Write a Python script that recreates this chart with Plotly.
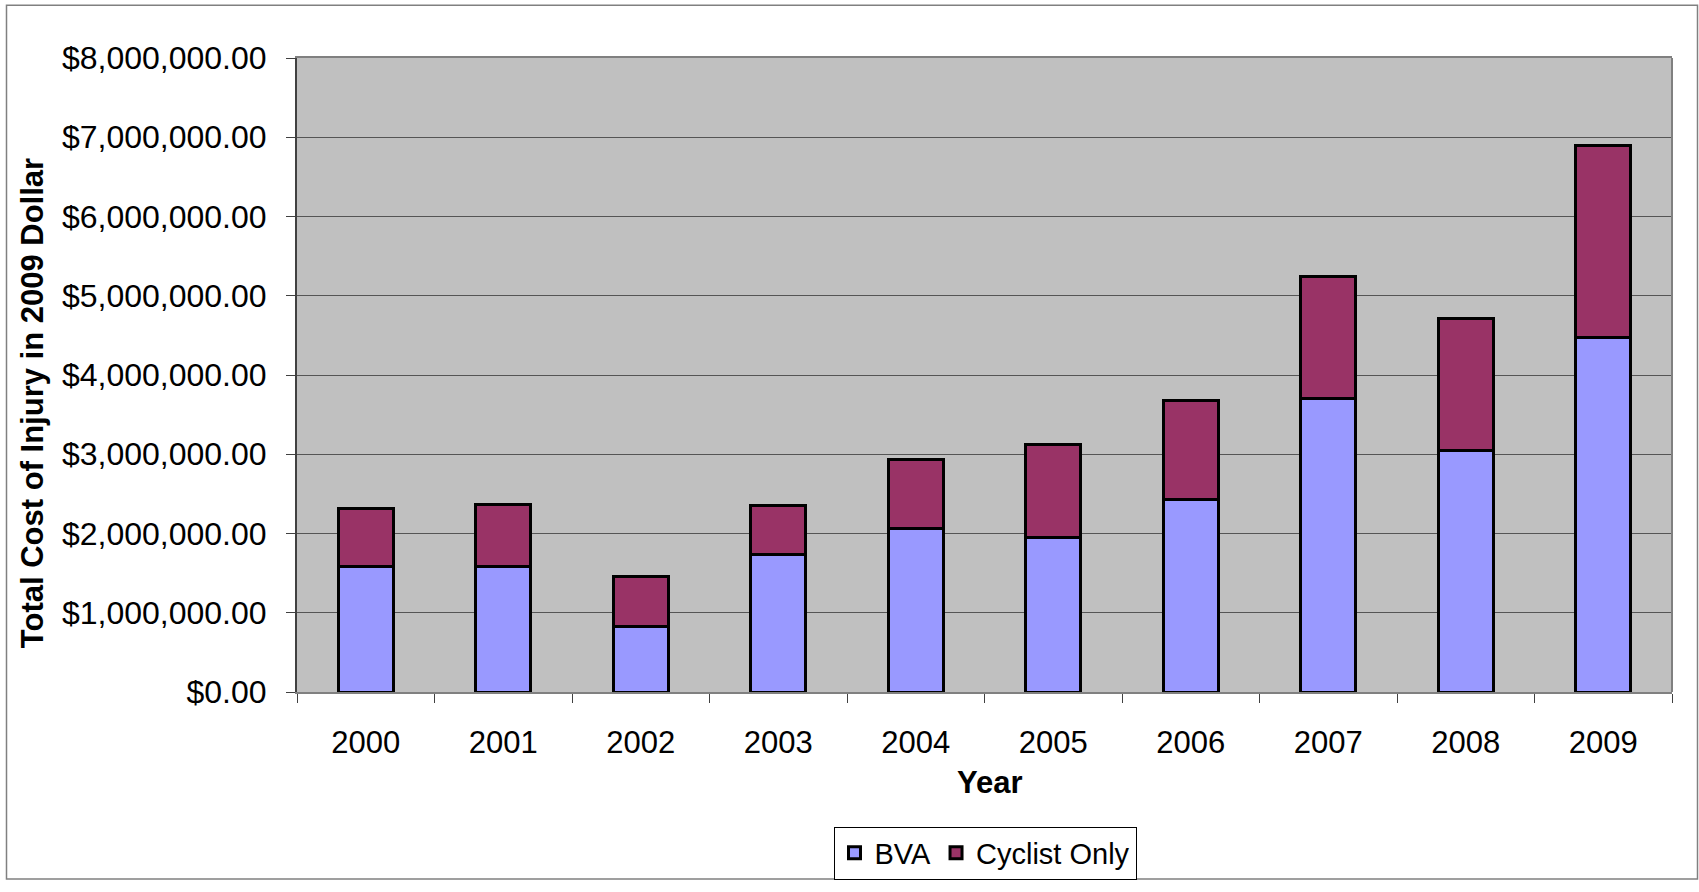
import plotly.graph_objects as go

# ---------------- data ----------------
years = ["2000", "2001", "2002", "2003", "2004", "2005", "2006", "2007", "2008", "2009"]
bva = [1580000, 1580000, 822000, 1736000, 2060000, 1950000, 2424000, 3700000, 3050000, 4477000]
cyclist_only = [730000, 780000, 638000, 613000, 872000, 1175000, 1256000, 1540000, 1668000, 2423000]
y_tick_values = [0, 1000000, 2000000, 3000000, 4000000, 5000000, 6000000, 7000000, 8000000]
y_tick_labels = ["$0.00", "$1,000,000.00", "$2,000,000.00", "$3,000,000.00", "$4,000,000.00",
                 "$5,000,000.00", "$6,000,000.00", "$7,000,000.00", "$8,000,000.00"]

FONT = "Liberation Sans, Arial, sans-serif"

fig = go.Figure()
fig.add_trace(go.Bar(
    name="BVA", x=years, y=bva, width=0.4,
    marker=dict(color="#9999FF", line=dict(color="black", width=3)),
))
fig.add_trace(go.Bar(
    name="Cyclist Only", x=years, y=cyclist_only, width=0.4,
    marker=dict(color="#993366", line=dict(color="black", width=3)),
))

# plot area in pixels
L, R, T, B = 297, 1672, 58, 699
W, H = R - L, B - T


def px(xp):
    return (xp - L) / W


def py(yp):
    return (B - yp) / H


fig.update_layout(
    width=1699, height=892, autosize=False,
    margin=dict(l=L, r=1699 - R, t=T, b=892 - B, pad=0),
    paper_bgcolor="white", plot_bgcolor="#C0C0C0",
    barmode="stack",
    font=dict(family=FONT, color="black", size=31),
    showlegend=True,
    legend=dict(
        orientation="h", x=px(985), xanchor="center", y=py(835), yanchor="top",
        bordercolor="black", borderwidth=1, bgcolor="white",
        font=dict(family=FONT, size=29, color="black"),
        traceorder="normal",
    ),
    xaxis=dict(
        type="category", tickson="boundaries", ticks="outside", ticklen=9,
        tickcolor="#404040", tickwidth=1,
        showline=True, linecolor="#808080", linewidth=2, mirror=True,
        showgrid=False, tickfont=dict(size=31), ticklabelstandoff=22,
    ),
    yaxis=dict(
        range=[0, 8000000], tickvals=y_tick_values, ticktext=y_tick_labels,
        ticks="outside", ticklen=9, tickcolor="#404040", tickwidth=1,
        showline=True, linecolor="#404040", linewidth=2,
        showgrid=True, gridcolor="#555555", gridwidth=1, zeroline=False,
        tickfont=dict(size=32), ticklabelstandoff=13,
    ),
    annotations=[
        dict(text="<b>Total Cost of Injury in 2009 Dollar</b>", xref="paper", yref="paper",
             x=px(32), y=py(407), xanchor="center", yanchor="middle", textangle=-90,
             showarrow=False, font=dict(family=FONT, size=31, color="black")),
        dict(text="<b>Year</b>", xref="paper", yref="paper",
             x=px(990), y=py(790), xanchor="center", yanchor="middle",
             showarrow=False, font=dict(family=FONT, size=31, color="black")),
    ],
    shapes=[
        # right edge of plot area
        dict(type="line", xref="paper", yref="paper", x0=1, x1=1, y0=0, y1=1,
             line=dict(color="#808080", width=2)),
        # outer chart border
        dict(type="rect", xref="paper", yref="paper",
             x0=px(6.5), x1=px(1697.5), y0=py(888), y1=py(4.7),
             line=dict(color="#808080", width=1.5), fillcolor="rgba(0,0,0,0)"),
    ],
)

fig.write_html("out.html")
